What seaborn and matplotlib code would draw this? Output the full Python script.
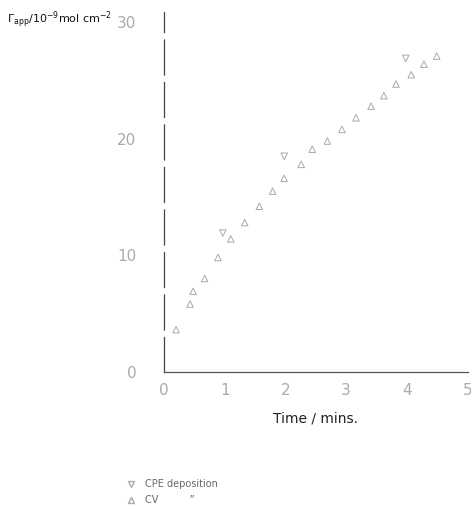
import matplotlib
matplotlib.use("Agg")
import matplotlib.pyplot as plt
import seaborn as sns
import pandas as pd
from matplotlib.lines import Line2D

cpe_time = [0.97, 1.98, 3.98]
cpe_gamma = [11.9, 18.5, 26.9]
cv_time = [0.2, 0.43, 0.48, 0.67, 0.89, 1.1, 1.33, 1.57, 1.79, 1.98, 2.26,
           2.44, 2.69, 2.93, 3.16, 3.41, 3.62, 3.82, 4.07, 4.28, 4.49]
cv_gamma = [3.6, 5.8, 6.9, 8.0, 9.8, 11.4, 12.8, 14.2, 15.5, 16.6, 17.8,
            19.1, 19.8, 20.8, 21.8, 22.8, 23.7, 24.7, 25.5, 26.4, 27.1]
x_ticks = [0, 1, 2, 3, 4, 5]
y_ticks = [0, 10, 20, 30]
series_names = ["CPE deposition", "CV"]

df = pd.DataFrame({
    "time": cpe_time + cv_time,
    "gamma": cpe_gamma + cv_gamma,
    "method": [series_names[0]] * len(cpe_time) + [series_names[1]] * len(cv_time),
})

sns.set_style("white")
plt.rcParams['font.family'] = ['DejaVu Sans']

fig = plt.figure(figsize=(4.71, 5.14), dpi=100)
ax = fig.add_axes([0.348, 0.277, 0.645, 0.70])

sns.scatterplot(data=df, x="time", y="gamma", style="method",
                markers={series_names[0]: "v", series_names[1]: "^"},
                color="none", edgecolor="#aaaaaa", linewidth=0.7, s=22,
                legend=False, ax=ax)

ax.set_xlim(0, 5)
ax.set_ylim(0, 30.9)
ax.set_xticks(x_ticks)
ax.set_yticks(y_ticks)
ax.set_xticklabels([str(t) for t in x_ticks])
ax.set_yticklabels([str(t) for t in y_ticks])
ax.tick_params(axis="both", colors="#aaaaaa", labelsize=11, length=3, width=0.6,
               labelcolor="#aaaaaa")
ax.tick_params(axis="y", pad=20, length=0)
ax.tick_params(axis="x", pad=5)
for s in ["top", "right"]:
    ax.spines[s].set_visible(False)
ax.spines["left"].set_color("#444444")
ax.spines["left"].set_linewidth(0.9)
ax.spines["left"].set_linestyle((0, (28, 6)))
ax.spines["bottom"].set_color("#555555")
ax.spines["bottom"].set_linewidth(0.9)
ax.set_xlabel("Time / mins.", fontsize=10, color="#222222", labelpad=10)
ax.set_ylabel("")

fig.text(0.015, 0.963, r"$\Gamma_{\rm app}$/10$^{-9}$mol cm$^{-2}$",
         fontsize=8, color="#111111", ha="left", va="center")

handles = [Line2D([], [], marker="v", linestyle="none", markerfacecolor="none",
                  markeredgecolor="#aaaaaa", markersize=4.5),
           Line2D([], [], marker="^", linestyle="none", markerfacecolor="none",
                  markeredgecolor="#aaaaaa", markersize=4.5)]
fig.legend(handles, [series_names[0], series_names[1] + "          \u201d"],
           loc="lower left", bbox_to_anchor=(0.25, 0.0), frameon=False,
           fontsize=7, labelcolor="#666666", handletextpad=0.9,
           labelspacing=0.6, handlelength=1)

fig.savefig("out.png", dpi=100)
